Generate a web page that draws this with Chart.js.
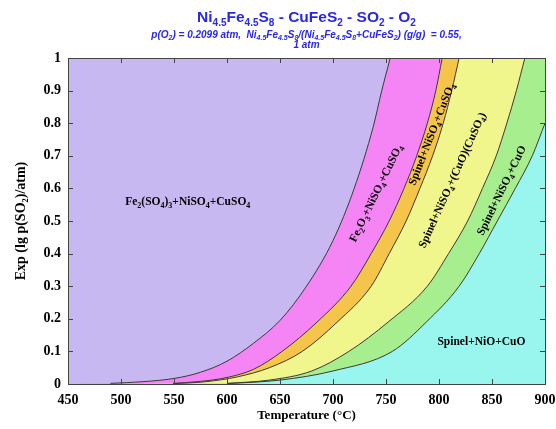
<!DOCTYPE html>
<html>
<head>
<meta charset="utf-8">
<script src="https://cdn.jsdelivr.net/npm/chart.js@4.4.1/dist/chart.umd.min.js"></script>
<style>
    html, body { margin: 0; padding: 0; background: #fff; }
    #wrap { width: 556px; height: 429px; }
</style>
</head>
<body>
<div id="wrap"><canvas id="ChartPhase"></canvas></div>
<script>
// axis ticks
const xTicks = [450, 500, 550, 600, 650, 700, 750, 800, 850, 900];
const yTicks = [0, 0.1, 0.2, 0.3, 0.4, 0.5, 0.6, 0.7, 0.8, 0.9, 1];

// phase boundaries: temperature (°C) -> Exp(lg p(SO2)/atm)
const b1Temp = [490, 520, 550, 575, 600, 625, 650, 675, 700, 720, 738, 746, 754];
const b1Val = [0.002, 0.007, 0.017, 0.036, 0.07, 0.125, 0.195, 0.3, 0.44, 0.6, 0.79, 0.9, 1];
const b2Temp = [549, 575, 600, 625, 652, 685, 717, 736, 753, 767, 779, 789, 797, 803];
const b2Val = [0.002, 0.008, 0.02, 0.045, 0.1, 0.19, 0.3, 0.4, 0.5, 0.6, 0.7, 0.8, 0.9, 1];
const b3Temp = [549, 580, 610, 640, 671, 704, 736, 753, 769, 782, 794, 804, 812, 819];
const b3Val = [0.001, 0.007, 0.022, 0.05, 0.1, 0.19, 0.3, 0.4, 0.5, 0.6, 0.7, 0.8, 0.9, 1];
const b4Temp = [600, 640, 680, 715, 752, 789, 809, 827, 841, 854, 864, 873, 881];
const b4Val = [0.002, 0.012, 0.04, 0.1, 0.19, 0.3, 0.4, 0.5, 0.6, 0.7, 0.8, 0.9, 1];
const b5Temp = [600, 650, 700, 756, 788, 819, 838, 855, 872, 888, 900];
const b5Val = [0.001, 0.012, 0.04, 0.1, 0.19, 0.3, 0.4, 0.5, 0.6, 0.7, 0.8];

// phase fields (left of each boundary, then the last one)
const phaseNames = [
    'Fe_{2}(SO_{4})_{3}+NiSO_{4}+CuSO_{4}',
    'Fe_{2}O_{3}+NiSO_{4}+CuSO_{4}',
    'Spinel+NiSO_{4}+CuSO_{4}',
    'Spinel+NiSO_{4}+(CuO)(CuSO_{4})',
    'Spinel+NiSO_{4}+CuO',
    'Spinel+NiO+CuO'
];
// label anchor (temperature, value) and angle
const labelTemp = [563, 740, 792.5, 812, 858.5, 840];
const labelVal = [0.561, 0.586, 0.767, 0.626, 0.595, 0.132];
const labelAngle = [0, -64, -68.5, -65.5, -64, 0];

const phaseColors = ['#c8b8f2', '#f584f5', '#f4c54a', '#f0f58c', '#a7ee8f', '#98f6ef'];
const lineColor = '#3a3a3a';
const blue = '#2828e6';

const titleText = 'Ni_{4.5}Fe_{4.5}S_{8} - CuFeS_{2} - SO_{2} - O_{2}';
const subText1 = 'p(O_{2}) = 0.2099 atm,  Ni_{4.5}Fe_{4.5}S_{8}/(Ni_{4.5}Fe_{4.5}S_{8}+CuFeS_{2}) (g/g)  = 0.55,';
const subText2 = '1 atm';

function richParts(s) {
    const parts = [];
    const re = /_\{([^}]*)\}/g;
    let last = 0, m;
    while ((m = re.exec(s))) {
        if (m.index > last) parts.push([s.slice(last, m.index), false]);
        parts.push([m[1], true]);
        last = re.lastIndex;
    }
    if (last < s.length) parts.push([s.slice(last), false]);
    return parts;
}

// draws text with subscripts, centred on (x, y)
function drawRich(ctx, s, x, y, angle, f) {
    const parts = richParts(s);
    const subSize = Math.round(f.size * f.subRatio);
    const font = sz => (f.style || '') + ' ' + (f.weight || '') + ' ' + sz + 'px ' + f.family;
    let w = 0;
    parts.forEach(p => {
        ctx.font = font(p[1] ? subSize : f.size);
        w += ctx.measureText(p[0]).width;
    });
    ctx.save();
    ctx.translate(x, y);
    ctx.rotate(angle * Math.PI / 180);
    ctx.fillStyle = f.color;
    ctx.textAlign = 'left';
    ctx.textBaseline = 'alphabetic';
    let cx = -w / 2;
    const base = f.size * 0.35;
    parts.forEach(p => {
        ctx.font = font(p[1] ? subSize : f.size);
        ctx.fillText(p[0], cx, base + (p[1] ? f.size * 0.25 : 0));
        cx += ctx.measureText(p[0]).width;
    });
    ctx.restore();
}

const phasePlugin = {
    id: 'phasePlugin',
    beforeDraw(chart) {
        const a = chart.chartArea, ctx = chart.ctx;
        ctx.save();
        ctx.fillStyle = phaseColors[5];
        ctx.fillRect(a.left, a.top, a.right - a.left, a.bottom - a.top);
        ctx.restore();
    },
    afterDatasetsDraw(chart) {
        const a = chart.chartArea, ctx = chart.ctx;
        const xs = chart.scales.x, ys = chart.scales.y;
        ctx.save();
        ctx.strokeStyle = '#444';
        ctx.lineWidth = 1;
        ctx.beginPath();
        xTicks.forEach(v => {
            const px = Math.round(xs.getPixelForValue(v)) + 0.5;
            ctx.moveTo(px, a.bottom); ctx.lineTo(px, a.bottom - 5);
            ctx.moveTo(px, a.top); ctx.lineTo(px, a.top + 5);
        });
        yTicks.forEach(v => {
            const py = Math.round(ys.getPixelForValue(v)) + 0.5;
            ctx.moveTo(a.left, py); ctx.lineTo(a.left + 5, py);
            ctx.moveTo(a.right, py); ctx.lineTo(a.right - 5, py);
        });
        ctx.stroke();
        ctx.strokeRect(Math.round(a.left) + 0.5, Math.round(a.top) + 0.5,
            Math.round(a.right - a.left), Math.round(a.bottom - a.top));
        ctx.restore();
    },
    afterDraw(chart) {
        const a = chart.chartArea, ctx = chart.ctx;
        const xs = chart.scales.x, ys = chart.scales.y;
        const labelFont = { size: 11.5, subRatio: 0.68, family: '"Liberation Serif", serif', weight: 'bold', color: '#000' };
        phaseNames.forEach((name, i) => {
            drawRich(ctx, name, xs.getPixelForValue(labelTemp[i]), ys.getPixelForValue(labelVal[i]), labelAngle[i], labelFont);
        });
        const cx = (a.left + a.right) / 2;
        drawRich(ctx, titleText, cx, 17, 0, { size: 15.5, subRatio: 0.62, family: '"Liberation Sans", Arial, sans-serif', weight: 'bold', color: blue });
        const subFont = { size: 10, subRatio: 0.65, family: '"Liberation Sans", Arial, sans-serif', weight: 'bold', style: 'italic', color: blue };
        drawRich(ctx, subText1, cx, 34, 0, subFont);
        drawRich(ctx, subText2, cx, 44, 0, subFont);
    }
};

const curves = [[b1Temp, b1Val], [b2Temp, b2Val], [b3Temp, b3Val], [b4Temp, b4Val], [b5Temp, b5Val]];
const toPoints = c => c[0].map((t, j) => ({ x: t, y: c[1][j] }));

// boundary lines (drawn on top)
const lineSets = curves.map((c, i) => ({
    label: 'boundary ' + (i + 1),
    data: toPoints(c),
    borderColor: lineColor,
    borderWidth: 1,
    pointRadius: 0,
    fill: false,
    cubicInterpolationMode: 'monotone'
}));
// phase fields: area above each boundary, closed from the bottom-left corner
const fieldSets = curves.map((c, i) => ({
    label: phaseNames[i],
    data: [{ x: xTicks[0], y: yTicks[0] }].concat(toPoints(c)),
    borderWidth: 0,
    borderColor: 'rgba(0,0,0,0)',
    pointRadius: 0,
    backgroundColor: phaseColors[i],
    fill: 'end',
    cubicInterpolationMode: 'monotone'
}));

const serif = '"Liberation Serif", "Times New Roman", serif';

new Chart(document.getElementById('ChartPhase'), {
    type: 'line',
    data: { datasets: lineSets.concat(fieldSets) },
    options: {
        responsive: true,
        maintainAspectRatio: false,
        animation: false,
        layout: { padding: { top: 58, right: 11, bottom: 0, left: 8 } },
        plugins: {
            legend: { display: false },
            tooltip: { enabled: false },
            filler: { drawTime: 'beforeDatasetsDraw' }
        },
        scales: {
            x: {
                type: 'linear',
                min: 450,
                max: 900,
                afterBuildTicks: s => { s.ticks = xTicks.map(v => ({ value: v })); },
                afterFit: s => { s.height = 45; s.paddingRight = 0; s.paddingLeft = 0; },
                grid: { display: false, drawTicks: false },
                border: { display: false },
                ticks: { color: '#000', padding: 8, maxRotation: 0, font: { family: serif, size: 14, weight: 'bold' } },
                title: { display: true, text: 'Temperature (°C)', color: '#000', padding: { top: 0, bottom: 6 }, font: { family: serif, size: 13, weight: 'bold' } }
            },
            y: {
                min: 0,
                max: 1,
                afterBuildTicks: s => { s.ticks = yTicks.map(v => ({ value: v })); },
                afterFit: s => { s.width = 60; },
                grid: { display: false, drawTicks: false },
                border: { display: false },
                ticks: { color: '#000', padding: 7, callback: v => String(v), font: { family: serif, size: 14, weight: 'bold' } },
                title: { display: true, text: 'Exp (lg p(SO₂)/atm)', color: '#000', padding: { top: 5, bottom: 0 }, font: { family: serif, size: 14, weight: 'bold' } }
            }
        }
    },
    plugins: [phasePlugin]
});
</script>
</body>
</html>
